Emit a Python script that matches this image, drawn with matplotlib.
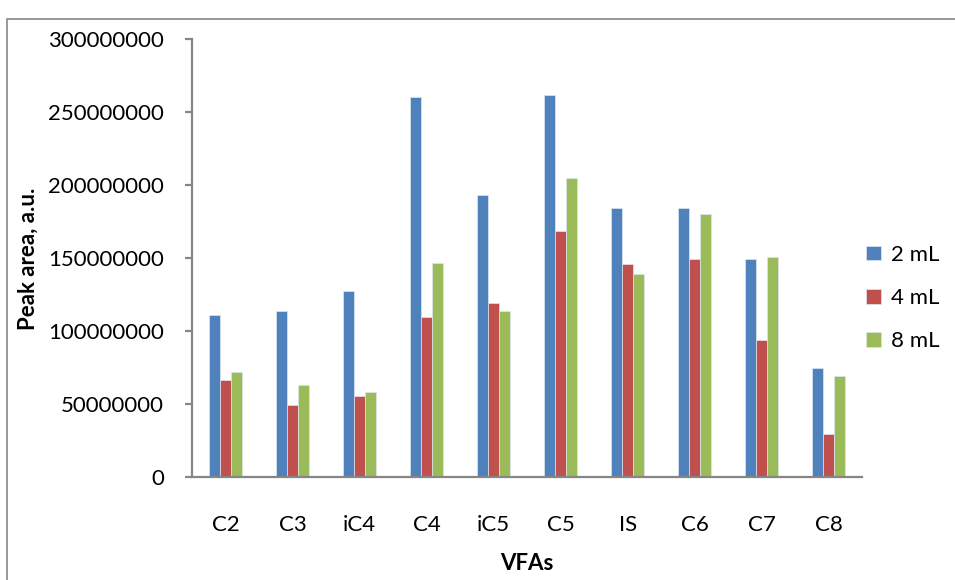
import numpy as np
import matplotlib
matplotlib.use('Agg')
import matplotlib.pyplot as plt
from matplotlib.patches import Rectangle

plt.rcParams['font.family'] = ['Lato', 'DejaVu Sans']

# peak areas per volatile fatty acid, one list per sample volume
vfas = ['C2', 'C3', 'iC4', 'C4', 'iC5', 'C5', 'IS', 'C6', 'C7', 'C8']
area_2ml = [111.0e6, 113.9e6, 127.4e6, 260.3e6, 193.6e6, 262.1e6, 184.2e6, 184.2e6, 149.3e6, 74.7e6]
area_4ml = [66.7e6, 49.3e6, 55.5e6, 110.0e6, 119.2e6, 168.7e6, 145.9e6, 149.3e6, 94.3e6, 29.5e6]
area_8ml = [71.9e6, 63.0e6, 58.4e6, 146.8e6, 113.9e6, 204.8e6, 139.0e6, 180.4e6, 150.9e6, 69.2e6]
series_names = ['2 mL', '4 mL', '8 mL']
yticks = [0, 50000000, 100000000, 150000000, 200000000, 250000000, 300000000]

colors = ['#4F81BD', '#C0504D', '#9BBB59']
axis_grey = '#868686'

fig = plt.figure(figsize=(9.55, 5.8), dpi=100)
ax = fig.add_axes([0.201, 0.177, 0.702, 0.755])

x = np.arange(len(vfas))
w = 0.164
for k, vals in enumerate([area_2ml, area_4ml, area_8ml]):
    ax.bar(x + (k - 1) * w, vals, w, color=colors[k], edgecolor='#dde6f0',
           linewidth=0.5, label=series_names[k], zorder=2)

ax.set_xlim(-0.5, len(vfas) - 0.5)
ax.set_ylim(0, 300000000)
ax.set_yticks(yticks)
ax.set_yticklabels([str(v) for v in yticks])
ax.set_xticks(x)
ax.set_xticklabels(vfas)

for s in ['top', 'right']:
    ax.spines[s].set_visible(False)
for s in ['left', 'bottom']:
    ax.spines[s].set_color(axis_grey)
    ax.spines[s].set_linewidth(1.6)

ax.tick_params(axis='y', direction='out', length=5, width=1.6, color=axis_grey,
               labelsize=16, pad=15, labelcolor='black')
ax.tick_params(axis='x', length=0, labelsize=16, pad=27, labelcolor='black')

ax.set_xlabel('VFAs', fontsize=16, fontweight='bold', va='center')
ax.set_ylabel('Peak area, a.u.', fontsize=16, fontweight='bold', va='center')
ax.xaxis.set_label_coords(0.5, -0.196)
ax.yaxis.set_label_coords(-0.245, 0.5)

ax.legend(loc='center left', bbox_to_anchor=(0.898, 0.486), bbox_transform=fig.transFigure,
          frameon=False, fontsize=16, handlelength=0.65, handleheight=0.65,
          handletextpad=0.45, labelspacing=1.05, borderaxespad=0)

# outer chart frame
fig.patches.append(Rectangle((0.0073, -0.1), 1.2, 0.1 + 1 - 19 / 580,
                             transform=fig.transFigure, fill=False,
                             edgecolor=axis_grey, linewidth=1.2))

fig.savefig('out.png', dpi=100)
